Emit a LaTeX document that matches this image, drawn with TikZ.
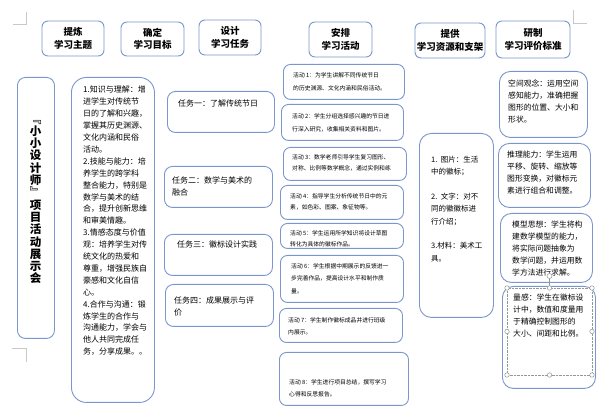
\documentclass[tikz,border=0pt]{standalone}
\usepackage{fontspec}
\setmainfont{Noto Sans CJK SC}
\definecolor{bx}{RGB}{122,150,204}
\definecolor{cropgray}{RGB}{200,200,200}
\definecolor{hdl}{RGB}{150,150,150}
\begin{document}
\begin{tikzpicture}[x=1pt,y=-1pt,
  box/.style={draw=bx, line width=0.9pt, rounded corners=#1, inner sep=0pt, anchor=north west},
  box/.default=7pt,
  hdr/.style={draw=bx, line width=0.9pt, rounded corners=6pt, inner sep=0pt, align=center,
    font=\bfseries\fontsize{9.5}{12.5}\selectfont},
  txt/.style={anchor=north west, inner sep=0pt, align=left},
  goal/.style={txt, font=\fontsize{8}{11.9}\selectfont},
  task/.style={txt, font=\fontsize{8}{12}\selectfont},
  act/.style={txt, font=\fontsize{5.8}{12}\selectfont},
  res/.style={txt, font=\fontsize{7.5}{12.3}\selectfont},
  crit/.style={txt, font=\fontsize{7.8}{11.8}\selectfont},
  cropline/.style={draw=cropgray, line width=0.6pt},
  handle/.style={draw=hdl, fill=white, line width=0.5pt, circle, inner sep=0pt, minimum size=4.5pt}
]
\useasboundingbox (0,0) rectangle (600,411);

% crop marks
\draw[cropline] (13,24) -- (26,24) -- (26,12);
\draw[cropline] (573,10) -- (573,23) -- (587,23);
\draw[cropline] (12,348) -- (26,348) -- (26,362);

% headers
\node[hdr, minimum width=62pt, minimum height=35pt] (h1) at (73,38.5) {提炼\\学习主题};
\node[hdr, minimum width=63pt, minimum height=34pt] (h2) at (152.5,39) {确定\\学习目标};
\node[hdr, minimum width=62pt, minimum height=35pt] (h3) at (230,37.5) {设计\\学习任务};
\node[hdr, minimum width=63pt, minimum height=35pt] (h4) at (340.5,39.5) {安排\\学习活动};
\node[hdr, minimum width=70pt, minimum height=35pt] (h5) at (450,40.5) {提供\\学习资源和支架};
\node[hdr, minimum width=74pt, minimum height=37pt] (h6) at (533,39.5) {研制\\学习评价标准};

% theme column
\node[box=8pt, minimum width=37pt, minimum height=261pt] (theme) at (17,77) {};
\node[inner sep=0pt, align=center, font=\bfseries\fontsize{11.5}{12.3}\selectfont] (themetext) at (35.5,202)
  {﹃\\小\\小\\设\\计\\师\\﹄\\项\\目\\活\\动\\展\\示\\会};

% goals column
\node[box=15pt, minimum width=83pt, minimum height=325pt] (goals) at (71,77) {};
\node[goal] (goalstext) at (83,86) {1.知识与理解：增\\进学生对传统节\\日的了解和兴趣，\\掌握其历史渊源、\\文化内涵和民俗\\活动。\\2.技能与能力：培\\养学生的跨学科\\整合能力，特别是\\数学与美术的结\\合，提升创新思维\\和审美情趣。\\3.情感态度与价值\\观：培养学生对传\\统文化的热爱和\\尊重，增强民族自\\豪感和文化自信\\心。\\4.合作与沟通：锻\\炼学生的合作与\\沟通能力，学会与\\他人共同完成任\\务，分享成果。。};

% tasks column
\node[box=8pt, minimum width=107pt, minimum height=41pt] (t1) at (167,91) {};
\node[task] (t1text) at (178,100) {任务一：了解传统节日};
\node[box=8pt, minimum width=108pt, minimum height=41pt] (t2) at (164,166) {};
\node[task] (t2text) at (172,177) {任务二：数学与美术的\\融合};
\node[box=8pt, minimum width=108pt, minimum height=41pt] (t3) at (164,234) {};
\node[task] (t3text) at (177,241) {任务三：徽标设计实践};
\node[box=8pt, minimum width=108pt, minimum height=42pt] (t4) at (165,284) {};
\node[task] (t4text) at (174,297) {任务四：成果展示与评\\价};

% activities column
\node[box, minimum width=121pt, minimum height=35pt] (a1) at (283,64) {};
\node[act, font=\fontsize{5.8}{12.8}\selectfont] (a1text) at (293,72.1) {活动 1：为学生讲解不同传统节日\\的历史渊源、文化内涵和民俗活动。};
\node[box, minimum width=122pt, minimum height=36pt] (a2) at (281,104) {};
\node[act, font=\fontsize{5.8}{12.8}\selectfont] (a2text) at (292,113.1) {活动 2：学生分组选择感兴趣的节日进\\行深入研究，收集相关资料和图片。};
\node[box, minimum width=123pt, minimum height=33pt] (a3) at (283,147) {};
\node[act, font=\fontsize{5.8}{11.2}\selectfont] (a3text) at (292,154.1) {活动 3：数学老师引导学生复习图形、\\对称、比例等数学概念，通过实例和练};
\node[box, minimum width=123pt, minimum height=34pt] (a4) at (280,185) {};
\node[act, font=\fontsize{5.8}{11.2}\selectfont] (a4text) at (290,193.1) {活动 4：指导学生分析传统节日中的元\\素，如色彩、图案、象征物等。};
\node[box, minimum width=123pt, minimum height=25pt] (a5) at (280,223) {};
\node[act, font=\fontsize{5.8}{10.8}\selectfont] (a5text) at (290,230.3) {活动 5：学生运用所学知识将设计草图\\转化为具体的徽标作品。};
\node[box, minimum width=123pt, minimum height=47pt] (a6) at (280,255) {};
\node[act, font=\fontsize{5.8}{12.5}\selectfont] (a6text) at (291,263.1) {活动 6：学生根据中期展示的反馈进一\\步完善作品，提高设计水平和制作质\\量。};
\node[box, minimum width=123pt, minimum height=34pt] (a7) at (279,308) {};
\node[act] (a7text) at (288,317.1) {活动 7：学生制作徽标成品并进行班级\\内展示。};
\node[box, minimum width=129pt, minimum height=53pt] (a8) at (279,352) {};
\node[act] (a8text) at (289,379.1) {活动 8：学生进行项目总结，撰写学习\\心得和反思报告。};

% resources column
\node[box=12pt, minimum width=74pt, minimum height=184pt] (res) at (419,133) {};
\node[res] (restext) at (431,156.2) {1.\ \ 图片：生活\\中的徽标；\\[12.3pt]2.\ \ 文字：对不\\同的徽徽标进\\行介绍；\\[12.3pt]3.材料：美术工\\具。};

% criteria column
\node[box=11pt, minimum width=88pt, minimum height=66pt] (b1) at (499,71) {};
\node[crit] (b1text) at (508,80.1) {空间观念：运用空间\\感知能力，准确把握\\图形的位置、大小和\\形状。};
\node[box=11pt, minimum width=92pt, minimum height=64pt] (b2) at (498,143) {};
\node[crit] (b2text) at (507,151.1) {推理能力：学生运用\\平移、旋转、缩放等\\图形变换，对徽标元\\素进行组合和调整。};
\node[box=11pt, minimum width=92pt, minimum height=69pt] (b3) at (500,213) {};
\node[crit] (b3text) at (512,221.1) {模型思想：学生将构\\建数学模型的能力，\\将实际问题抽象为\\数学问题，并运用数\\学方法进行求解。};
\node[box=11pt, minimum width=93pt, minimum height=102pt] (b4) at (502,286) {};
\node[crit] (b4text) at (513,294.1) {量感：学生在徽标设\\计中，数值和度量用\\于精确控制图形的\\大小、间距和比例。};

% selection handles on the last criterion box
\draw[hdl, line width=0.4pt, densely dotted] (507,288) rectangle (592,375);
\draw[hdl, line width=0.5pt] (549.5,276) -- (549.5,288);
\foreach \hx/\hy in {507/288, 592/288, 507/331.5, 592/331.5, 507/375, 549.5/375, 592/375, 549.5/288}
  \node[handle] at (\hx,\hy) {};
\node[handle, minimum size=5pt] (rot) at (549.5,276) {};
\end{tikzpicture}
\end{document}
